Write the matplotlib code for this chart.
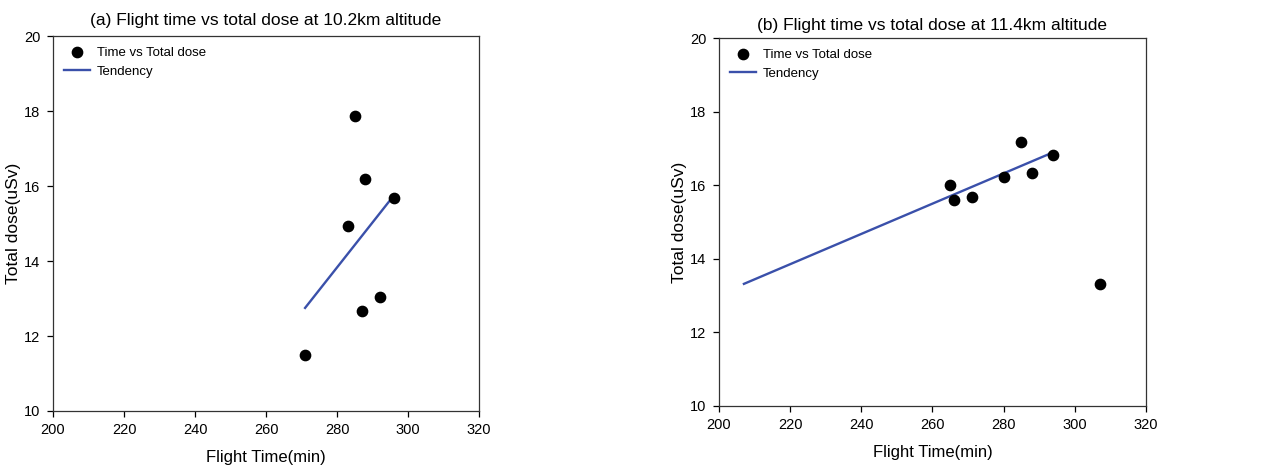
import matplotlib.pyplot as plt
import numpy as np

plt.rcParams['font.family'] = ['Liberation Sans', 'DejaVu Sans']

# (a) 10.2 km altitude
time_a = [271, 283, 285, 287, 288, 292, 296]
dose_a = [11.50, 14.93, 17.88, 12.68, 16.18, 13.04, 15.68]
trend_a_x = [271, 296]
trend_a_y = [12.75, 15.75]

# (b) 11.4 km altitude
time_b = [265, 266, 271, 280, 285, 288, 294, 307]
dose_b = [16.00, 15.59, 15.67, 16.23, 17.17, 16.34, 16.82, 13.32]
trend_b_x = [207, 294]
trend_b_y = [13.32, 16.90]

titles = ["(a) Flight time vs total dose at 10.2km altitude",
          "(b) Flight time vs total dose at 11.4km altitude"]
xticks = [200, 220, 240, 260, 280, 300, 320]
yticks = [10, 12, 14, 16, 18, 20]

line_color = '#3a50aa'

fig = plt.figure(figsize=(12.65, 4.68), dpi=100, facecolor='white')
ax1 = fig.add_axes([0.0419, 0.1218, 0.3368, 0.801])
ax2 = fig.add_axes([0.5684, 0.1325, 0.3375, 0.786])

panels = [
    (ax1, time_a, dose_a, trend_a_x, trend_a_y, titles[0], 8),
    (ax2, time_b, dose_b, trend_b_x, trend_b_y, titles[1], 6),
]

for ax, tx, dy, lx, ly, title, tpad in panels:
    ax.scatter(tx, dy, s=55, color='black', zorder=3, label='Time vs Total dose')
    ax.plot(lx, ly, color=line_color, linewidth=1.7, zorder=2, label='Tendency')
    ax.set_xlim(200, 320)
    ax.set_ylim(10, 20)
    ax.set_xticks(xticks)
    ax.set_yticks(yticks)
    ax.tick_params(direction='out', length=4, width=0.9, labelsize=10.5,
                   top=False, right=False, colors='black', pad=5)
    for sp in ax.spines.values():
        sp.set_linewidth(0.9)
        sp.set_color('#333333')
    ax.set_xlabel("Flight Time(min)", fontsize=12, labelpad=9)
    ax.set_ylabel("Total dose(uSv)", fontsize=12.5, labelpad=2)
    ax.set_title(title, fontsize=12.5, pad=tpad)
    ax.legend(loc='upper left', frameon=False, fontsize=9.5,
              handlelength=2.0, handletextpad=0.5, borderaxespad=0.4,
              labelspacing=0.5, scatterpoints=1)

fig.savefig("out.png", dpi=100, facecolor='white')
